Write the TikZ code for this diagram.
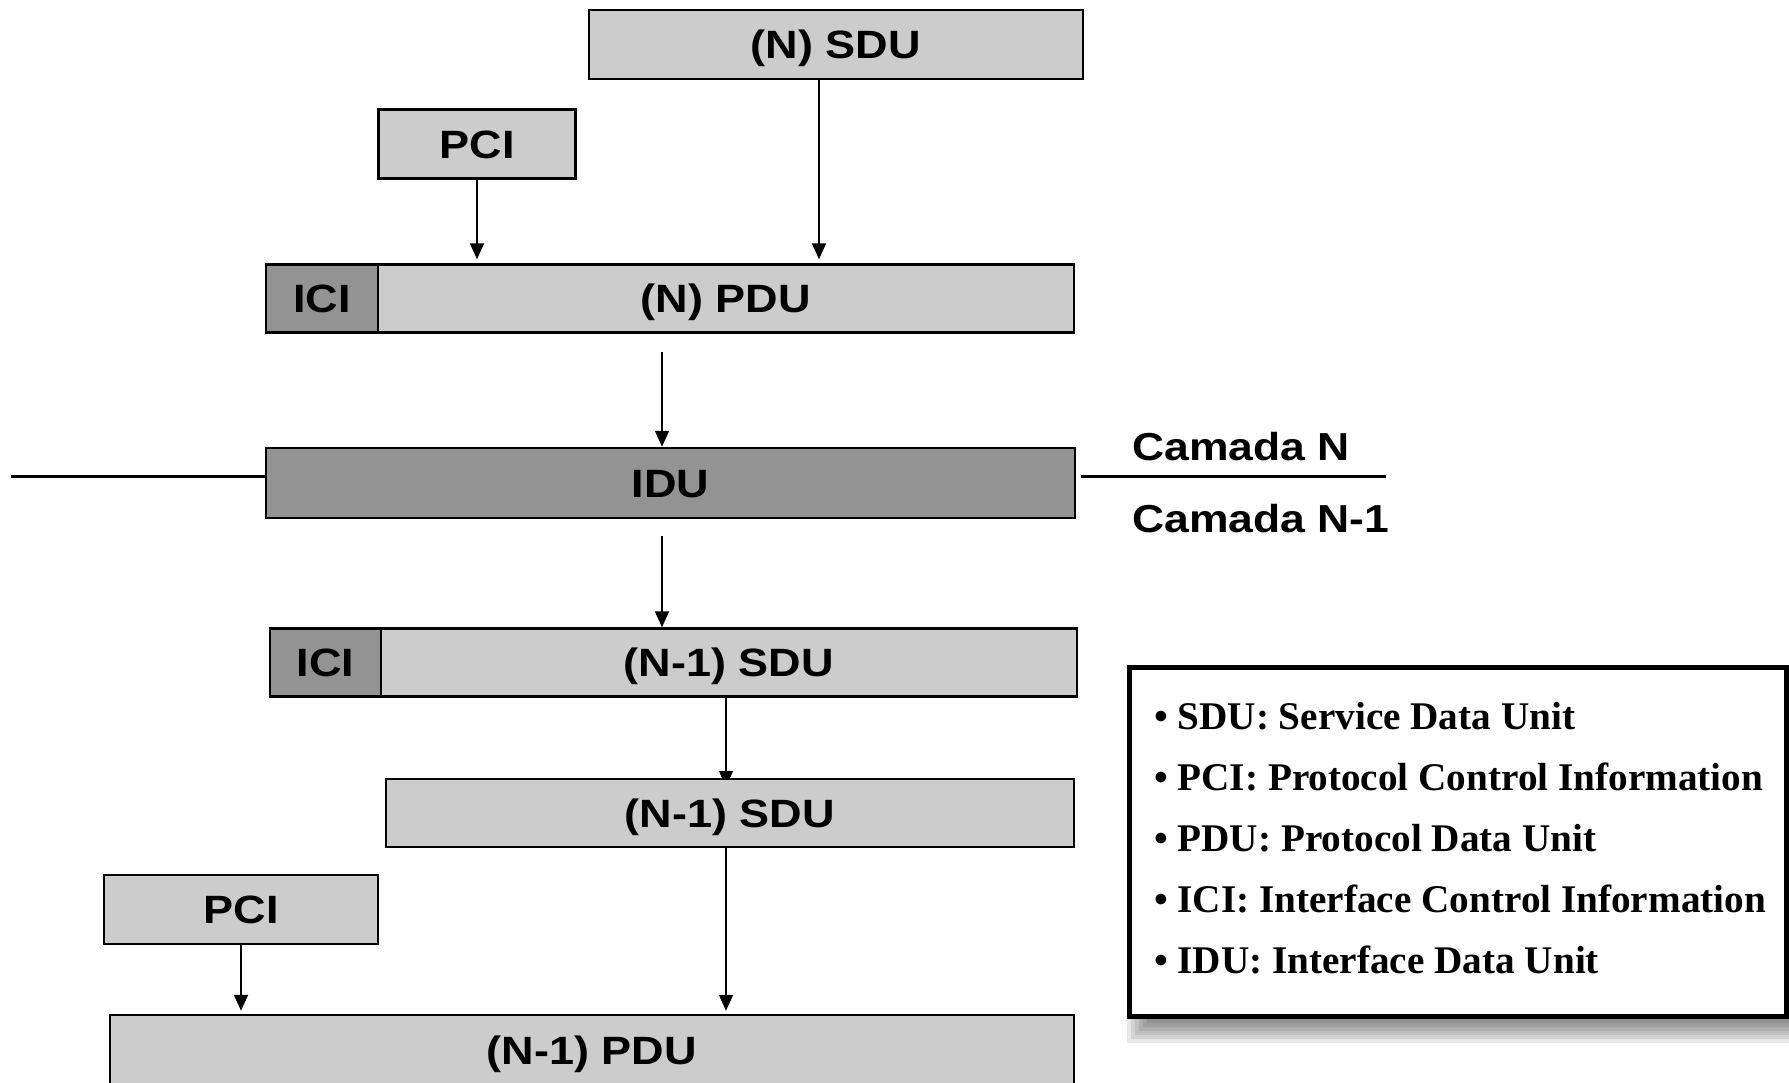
\documentclass[tikz,border=0pt]{standalone}
\usepackage{fontspec}
\newfontfamily\boxfont[FakeStretch=1.14]{Liberation Sans}
\newfontfamily\legfont{Liberation Serif}
\usetikzlibrary{arrows.meta,backgrounds}
\definecolor{pale}{gray}{0.80}
\definecolor{dark}{gray}{0.575}
\begin{document}
\begin{tikzpicture}[x=1pt,y=-1pt,
  unit/.style={draw=black, line width=2.5pt, fill=pale, inner sep=0pt,
    text height=28pt, text depth=0pt,
    font=\boxfont\bfseries\fontsize{39.5}{39.5}\selectfont},
  ctl/.style={unit, fill=dark},
  flow/.style={line width=2pt, -{Triangle[length=16pt,width=14pt]}},
  lay/.style={line width=3pt},
  tag/.style={anchor=base west, inner sep=0pt,
    font=\boxfont\bfseries\fontsize{39}{39}\selectfont},
  legline/.style={anchor=base west, inner sep=0pt,
    font=\legfont\bfseries\fontsize{39.2}{39.2}\selectfont}]

\useasboundingbox (0,0) rectangle (1789,1082);

% data units
\node[unit, minimum width=494, minimum height=69] (nsdu)   at (836,44.5)  {(N) SDU};
\node[unit, minimum width=197, minimum height=69] (pci1)   at (477,144)   {PCI};
\node[ctl,  minimum width=112, minimum height=68] (ici1)   at (322,298.5) {ICI};
\node[unit, minimum width=696, minimum height=68] (npdu)   at (726,298.5) {(N) PDU};
\node[ctl,  minimum width=809, minimum height=70] (idu)    at (670.5,483) {IDU};
\node[ctl,  minimum width=111, minimum height=68] (ici2)   at (325.5,662.5) {ICI};
\node[unit, minimum width=696, minimum height=68] (n1sdu)  at (729,662.5) {(N-1) SDU};
\node[unit, minimum width=688, minimum height=68] (n1sdu2) at (730,813)   {(N-1) SDU};
\node[unit, minimum width=274, minimum height=69] (pci2)   at (241,909.5) {PCI};
\node[unit, minimum width=964, minimum height=70] (n1pdu)  at (592,1050)  {(N-1) PDU};

% layer boundary
\coordinate (edgeL) at (11,476);
\coordinate (edgeR) at (1386,476);
\coordinate (iduR) at ([xshift=5pt]idu.east);
\draw[lay] (edgeL) -- (edgeL -| idu.west);
\draw[lay] (edgeR -| iduR) -- (edgeR);
\node[tag] (camN)  at (1132,460) {Camada N};
\node[tag] (camN1) at (1132,532) {Camada N-1};

% legend
\node[draw=black, line width=5pt, fill=white, inner sep=0pt,
      minimum width=657, minimum height=349] (legend) at (1457.5,841.5) {};
\node[legline] (k1) at (1154,729) {• SDU: Service Data Unit};
\node[legline] (k2) at (1154,790) {• PCI: Protocol Control Information};
\node[legline] (k3) at (1154,851) {• PDU: Protocol Data Unit};
\node[legline] (k4) at (1154,912) {• ICI: Interface Control Information};
\node[legline] (k5) at (1154,973) {• IDU: Interface Data Unit};

\begin{scope}[on background layer]
  % soft shadow of the legend
  \foreach \r in {-6,-2,2,6,10,14}
    \fill[black, opacity=0.09]
      ([shift={(14-\r,14-\r)}]legend.north west) rectangle
      ([shift={(14+\r,10+\r)}]legend.south east);

  % connectors
  \coordinate (trunk) at (662,0);
  \coordinate (trunk2) at (726,0);
  \coordinate (a1) at ([xshift=-17pt]nsdu.south);
  \path (npdu.south -| trunk) ++(0,18) coordinate (a2s);
  \path (idu.south -| trunk) ++(0,17) coordinate (a3s);
  \path (n1sdu2.north -| trunk2) ++(0,9) coordinate (a4e);

  \draw[flow, shorten >=4pt] (pci1.south) -- (pci1.south |- npdu.north);
  \draw[flow, shorten >=4pt] (a1) -- (a1 |- npdu.north);
  \draw[flow] (a2s) -- (a2s |- idu.north);
  \draw[flow] (a3s) -- (a3s |- n1sdu.north);
  \draw[flow] (n1sdu.south -| trunk2) -- (a4e);
  \draw[flow, shorten >=3pt] (n1sdu2.south -| trunk2) -- (n1pdu.north -| trunk2);
  \draw[flow, shorten >=3pt] (pci2.south) -- (pci2.south |- n1pdu.north);
\end{scope}
\end{tikzpicture}
\end{document}
